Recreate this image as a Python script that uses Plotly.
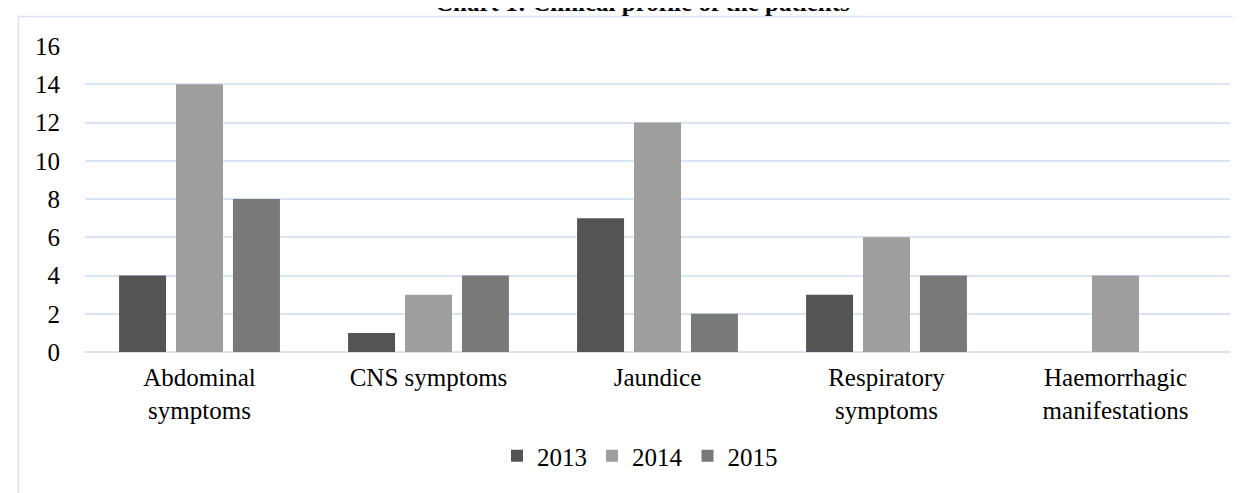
import plotly.graph_objects as go

categories = ["Abdominal<br>symptoms", "CNS symptoms", "Jaundice", "Respiratory<br>symptoms", "Haemorrhagic<br>manifestations"]
series_names = ["2013", "2014", "2015"]
values_2013 = [4, 1, 7, 3, 0]
values_2014 = [14, 3, 12, 6, 4]
values_2015 = [8, 4, 2, 4, 0]
y_ticks = [0, 2, 4, 6, 8, 10, 12, 14, 16]
title_text = "Chart 1: Clinical profile of the patients"

colors = ["#545454", "#9e9e9e", "#797979"]
FONT = "Liberation Serif, Times New Roman, serif"
FS = 25

W, H = 1241, 493
L, R, T, B = 77, W - 1222, 38, H - 344
pw, ph = W - L - R, H - T - B

def px_x(x):
    return (x - L) / pw

def px_y(y):
    return (H - B - y) / ph

fig = go.Figure()
for name, vals, col in zip(series_names, [values_2013, values_2014, values_2015], colors):
    fig.add_trace(go.Bar(x=categories, y=vals, name=name, marker=dict(color=col, line=dict(width=0))))

fig.update_layout(
    width=W, height=H,
    margin=dict(l=L, r=R, t=T, b=B),
    paper_bgcolor="white", plot_bgcolor="white",
    barmode="group", bargap=0.254, bargroupgap=0.175,
    font=dict(family=FONT, size=FS, color="#000000"),
    showlegend=True,
    legend=dict(orientation="h", x=px_x(632), xanchor="center", y=px_y(448), yanchor="middle",
                font=dict(family=FONT, size=FS), itemwidth=30, traceorder="normal",
                tracegroupgap=0, bgcolor="rgba(0,0,0,0)"),
    xaxis=dict(showgrid=False, showline=False, ticks="", ticklabelstandoff=8,
               tickfont=dict(family=FONT, size=FS)),
    yaxis=dict(range=[0, 16], tickvals=y_ticks, showgrid=True, gridcolor="#d9e4f4", gridwidth=2,
               zeroline=True, zerolinecolor="#d9e4f4", zerolinewidth=2, showline=False, ticks="",
               ticklabelstandoff=24, tickfont=dict(family=FONT, size=FS)),
    shapes=[dict(type="rect", xref="paper", yref="paper", x0=px_x(10.5), x1=px_x(1300),
                 y0=px_y(600), y1=px_y(8.5), line=dict(color="#d6e2f3", width=1.5), layer="below")],
    annotations=[dict(text="<b>" + title_text + "</b>", xref="paper", yref="paper", x=px_x(634),
                      y=px_y(10), xanchor="center", yanchor="bottom", showarrow=False,
                      font=dict(family=FONT, size=FS, color="#000000"))],
)

fig.write_html("out.html")
